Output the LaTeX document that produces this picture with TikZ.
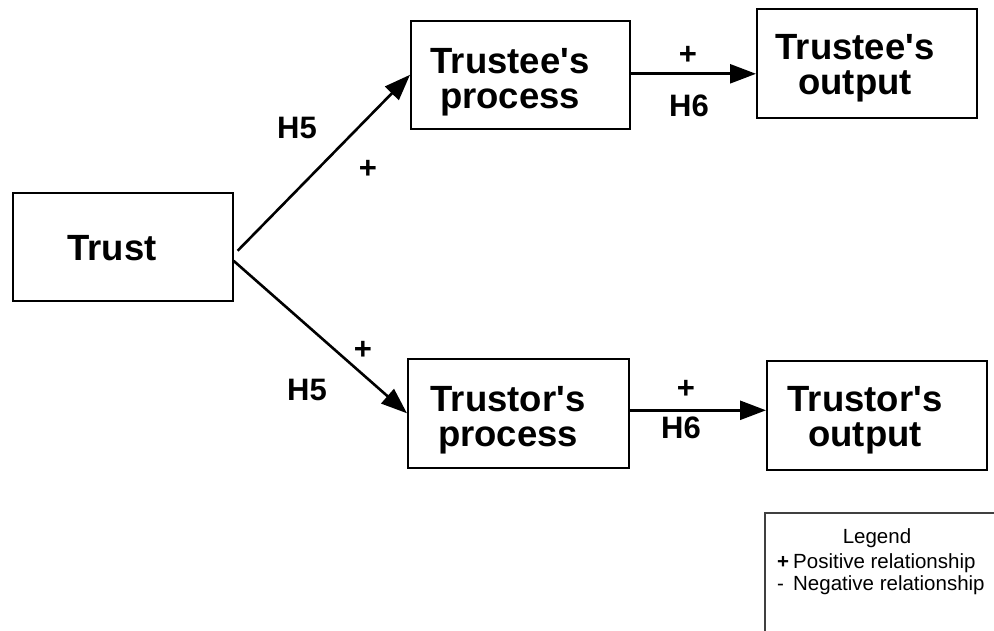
\documentclass[tikz,border=0pt]{standalone}
\usepackage{fontspec}
\setmainfont{Liberation Sans}[Ligatures=TeXOff]
\usetikzlibrary{arrows.meta,calc}
\begin{document}
\begin{tikzpicture}[x=1pt,y=-1pt,
  box/.style={draw,line width=1.6pt,rectangle,inner sep=0pt,anchor=north west},
  boxtext/.style={inner sep=0pt,align=center,font=\fontsize{36.5}{35}\selectfont\bfseries},
  lab/.style={inner sep=0pt,font=\fontsize{31}{30}\selectfont\bfseries},
  conn/.style={line width=2.6pt,-{Triangle[length=26pt,width=19pt]}},
  legtext/.style={inner sep=0pt,anchor=base west,font=\fontsize{20.5}{22}\selectfont}]
\useasboundingbox (0,0) rectangle (994,631);
\clip (0,0) rectangle (994,631);
% boxes
\node[box,minimum width=220pt,minimum height=108pt] (trust) at (12,192) {};
\node[box,minimum width=219pt,minimum height=108pt] (tpp) at (410,20) {};
\node[box,minimum width=220pt,minimum height=109pt] (tpo) at (756,8) {};
\node[box,minimum width=221pt,minimum height=109pt] (trp) at (407,358) {};
\node[box,minimum width=220pt,minimum height=109pt] (tro) at (766,360) {};
% box texts
\node[boxtext] (ttrust) at (112,248) {Trust};
\node[boxtext] (ttpp) at (510,82) {Trustee's\\process};
\node[boxtext] (ttpo) at (855,68) {Trustee's\\output};
\node[boxtext] (ttrp) at (508,420) {Trustor's\\process};
\node[boxtext] (ttro) at (865,420) {Trustor's\\output};
% connectors
\coordinate (s1) at ($(trust.east)+(4,4)$);
\coordinate (s2) at ($(trust.east)+(0,14)$);
\draw[conn] (s1) -- (tpp.west);
\draw[conn] (s2) -- (trp.west);
\draw[conn] ($(tpp.east)+(0,-1)$) -- ($(tpp.east -| tpo.west)+(0,-1)$);
\draw[conn] ($(trp.east)+(0,-3)$) -- ($(trp.east -| tro.west)+(0,-3)$);
% labels
\node[lab] (h5a) at (297,128) {H5};
\node[lab] (pa) at (368,169) {+};
\node[lab] (pb) at (363,350) {+};
\node[lab] (h5b) at (307,390) {H5};
\node[lab] (pc) at (688,55) {+};
\node[lab] (h6a) at (689,106) {H6};
\node[lab] (pd) at (686,389) {+};
\node[lab] (h6b) at (681,428) {H6};
% legend
\draw[line width=1.3pt,black!75] (1010,513) -- (765,513) -- (765,650);
\node[inner sep=0pt,anchor=base,font=\fontsize{20.5}{22}\selectfont] (legt) at (877,543) {Legend};
\node[legtext] (leg1) at (777,568) {\makebox[16pt][l]{\bfseries +}Positive relationship};
\node[legtext] (leg2) at (777,590) {\makebox[16pt][l]{-}Negative relationship};
\end{tikzpicture}
\end{document}
